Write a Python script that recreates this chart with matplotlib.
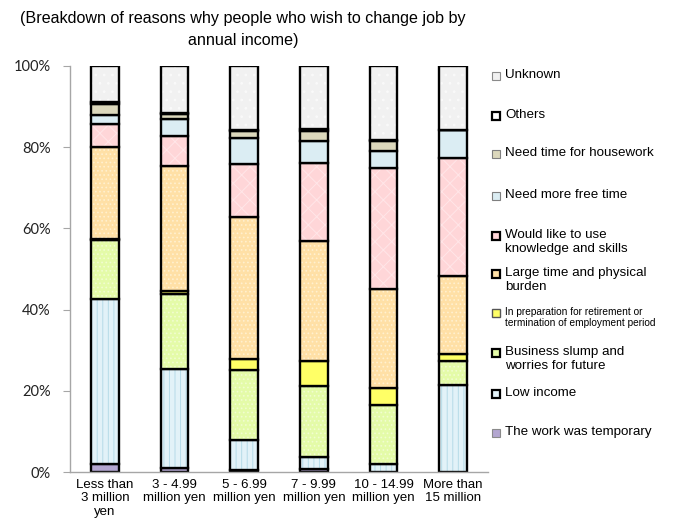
import matplotlib
matplotlib.use("Agg")

import matplotlib.pyplot as plt
from matplotlib.patches import Rectangle
import numpy as np

plt.rcParams['font.family'] = ['Liberation Sans', 'DejaVu Sans']
plt.rcParams['hatch.linewidth'] = 0.7

categories = ["Less than\n3 million\nyen", "3 - 4.99\nmillion yen", "5 - 6.99\nmillion yen",
              "7 - 9.99\nmillion yen", "10 - 14.99\nmillion yen", "More than\n15 million"]

# share of each reason (%), bottom of the stack first
temporary = [2.0, 0.9, 0.6, 0.7, 0.0, 0.0]
low_income = [40.5, 24.5, 7.4, 2.9, 2.0, 21.4]
business_slump = [14.6, 18.4, 17.1, 17.6, 14.5, 6.0]
retirement = [0.3, 0.8, 2.7, 6.1, 4.1, 1.7]
large_burden = [22.6, 30.8, 34.9, 29.6, 24.4, 19.2]
use_skills = [5.6, 7.4, 13.1, 19.1, 29.9, 29.0]
free_time = [2.3, 4.1, 6.5, 5.5, 4.2, 6.9]
housework = [2.8, 1.2, 1.7, 2.6, 2.4, 0.0]
others = [0.5, 0.3, 0.3, 0.3, 0.3, 0.0]
unknown = [8.8, 11.6, 15.7, 15.6, 18.2, 15.8]

series = [temporary, low_income, business_slump, retirement, large_burden,
          use_skills, free_time, housework, others, unknown]

legend_labels = [
    "The work was temporary",
    "Low income",
    "Business slump and\nworries for future",
    "In preparation for retirement or\ntermination of employment period",
    "Large time and physical\nburden",
    "Would like to use\nknowledge and skills",
    "Need more free time",
    "Need time for housework",
    "Others",
    "Unknown",
]

# (face, hatch, hatch colour, legend edge, legend edge width)
styles = [
    ('#b3a6d0', None, None, '#8a8a8a', 0.8),
    ('#e2f2f8', '|||', '#b5dbe8', '#000000', 1.6),
    ('#e4fba8', '....', '#f1fdd0', '#000000', 1.6),
    ('#ffff66', None, None, '#555555', 1.0),
    ('#ffe0a6', '....', '#fff0cf', '#000000', 1.6),
    ('#ffd6d8', 'xx', '#ffe6e8', '#000000', 1.6),
    ('#dbedf3', None, None, '#7f7f7f', 0.8),
    ('#dcd8bc', None, None, '#7f7f7f', 0.8),
    ('#ffffff', None, None, '#000000', 1.6),
    ('#f1f1f1', '..', '#fafafa', '#8a8a8a', 0.8),
]

fig = plt.figure(figsize=(6.81, 5.28), dpi=100)
ax = fig.add_axes([70 / 681, 1 - 472 / 528, 418 / 681, 406 / 528])

x = np.arange(len(categories))
width = 0.4
bottom = np.zeros(len(categories))
for vals, (face, hatch, hcol, _, _) in zip(series, styles):
    vals = np.array(vals)
    # fill with pattern first, then the black outline on top
    ax.bar(x, vals, width, bottom=bottom, color=face, hatch=hatch,
           edgecolor=hcol if hcol else face, linewidth=0)
    ax.bar(x, vals, width, bottom=bottom, facecolor='none',
           edgecolor='black', linewidth=1.7)
    bottom += vals

ax.set_xlim(-0.5, len(categories) - 0.5)
ax.set_ylim(0, 100)
ax.set_yticks(range(0, 101, 20))
ax.set_yticklabels([f"{v}%" for v in range(0, 101, 20)], family=['Lato', 'DejaVu Sans'])
ax.set_xticks(x)
ax.set_xticklabels(categories, fontsize=9.5, linespacing=1.15)

for side in ['top', 'right']:
    ax.spines[side].set_visible(False)
for side in ['left', 'bottom']:
    ax.spines[side].set_color('#a6a6a6')
    ax.spines[side].set_linewidth(1.0)
ax.tick_params(axis='y', direction='out', length=5, color='#a6a6a6',
               labelsize=10.5, pad=9, labelcolor='#222222')
ax.tick_params(axis='x', length=0, pad=5)

fig.text(243 / 681, 1 - 11 / 528,
         "(Breakdown of reasons why people who wish to change job by\nannual income)",
         ha='center', va='top', fontsize=11.6, linespacing=1.6)


def fig_xy(px, py):
    return px / 681, 1 - py / 528


# legend, drawn by hand so the entries keep their uneven spacing
legend_y = [433, 394, 353, 313, 274, 236, 196, 154, 116, 76]
for label, (face, _, _, ledge, lw), py in zip(legend_labels, styles, legend_y):
    mx, my = fig_xy(492, py + 4)
    fig.add_artist(Rectangle((mx, my), 8 / 681, 8 / 528, transform=fig.transFigure,
                             facecolor=face, edgecolor=ledge, linewidth=lw))
    small = label.startswith("In preparation")
    tx, ty = fig_xy(505, py - (6 if small else 7))
    fig.text(tx, ty, label, ha='left', va='top',
             fontsize=7.3 if small else 9.6, linespacing=1.15 if small else 1.2)

fig.savefig('out.png', dpi=100)
